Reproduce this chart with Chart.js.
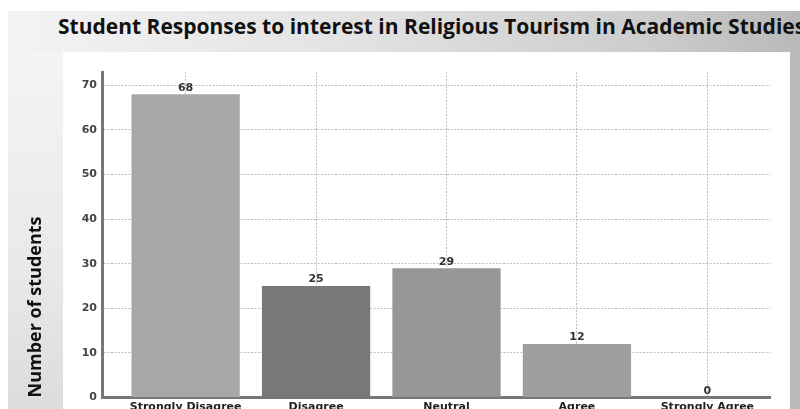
<!DOCTYPE html>
<html>
<head>
<meta charset="utf-8">
<title>Student Responses</title>
<script src="https://cdn.jsdelivr.net/npm/chart.js@4.4.1/dist/chart.umd.min.js"></script>
<style>
  html, body { margin: 0; padding: 0; width: 800px; height: 409px; overflow: hidden; background: #ffffff; }
  .slide { position: absolute; left: 8px; top: 11px; right: 0; bottom: 0;
           background: linear-gradient(to right, #f3f3f3 0%, #e4e4e4 40%, #cdcdcd 80%, #b9b9b9 100%); }
  .slide-left { position: absolute; left: 8px; top: 52px; width: 55px; bottom: 0;
           background: linear-gradient(to bottom, #f4f4f4 0%, #e9e9e9 60%, #dcdcdc 100%); }
  .panel { position: absolute; left: 63px; top: 52px; width: 727px; bottom: 0; background: #ffffff; }
  .heading { position: absolute; left: 58px; top: 12px; white-space: nowrap;
             font-family: "Open Sans", sans-serif; font-weight: 700; font-size: 21px; color: #111; }
  .wrap { position: absolute; left: 0; top: 0; width: 800px; height: 430px; }
</style>
</head>
<body>
<div class="slide"></div>
<div class="slide-left"></div>
<div class="panel"></div>
<div class="heading">Student Responses to interest in Religious Tourism in Academic Studies</div>
<div class="wrap"><canvas id="chart"></canvas></div>
<script>
// Survey categories and how many students chose each one
const responses = ['Strongly Disagree', 'Disagree', 'Neutral', 'Agree', 'Strongly Agree'];
const counts = [68, 25, 29, 12, 0];
const yTicks = [0, 10, 20, 30, 40, 50, 60, 70];
const barColors = ['#a8a8a8', '#787878', '#979797', '#9e9e9e', '#9e9e9e'];

// Writes each count just above its bar
const valueLabels = {
  id: 'valueLabels',
  afterDatasetsDraw(chart) {
    const ctx = chart.ctx;
    const meta = chart.getDatasetMeta(0);
    ctx.save();
    ctx.font = 'bold 11px "DejaVu Sans"';
    ctx.fillStyle = '#333333';
    ctx.textAlign = 'center';
    ctx.textBaseline = 'bottom';
    meta.data.forEach((bar, i) => {
      ctx.fillText(String(counts[i]), bar.x, bar.y - 1);
    });
    ctx.restore();
  }
};

new Chart(document.getElementById('chart'), {
  type: 'bar',
  data: {
    datasets: [{
      data: counts.map((v, i) => ({ x: i, y: v })),
      backgroundColor: barColors,
      borderWidth: 0,
      barPercentage: 0.83,
      categoryPercentage: 1
    }]
  },
  options: {
    responsive: true,
    maintainAspectRatio: false,
    animation: false,
    layout: { padding: { left: 25, top: 72, right: 30, bottom: 12.5 } },
    plugins: { legend: { display: false }, tooltip: { enabled: false } },
    scales: {
      x: {
        type: 'linear',
        offset: false,
        min: -0.641,
        max: 4.48,
        afterBuildTicks(scale) {
          scale.ticks = responses.map((_, i) => ({ value: i }));
        },
        afterFit(scale) { scale.height = 20; },
        ticks: {
          autoSkip: false,
          maxRotation: 0,
          padding: 3,
          color: '#222222',
          font: { family: '"DejaVu Sans"', weight: 'bold', size: 11 },
          callback: (value) => responses[value]
        },
        grid: { offset: false, color: '#bdbdbd', lineWidth: 1, drawTicks: false },
        border: { display: true, color: '#777777', width: 3, dash: [2, 1.5] }
      },
      y: {
        min: 0,
        max: 73,
        afterBuildTicks(scale) {
          scale.ticks = yTicks.map(v => ({ value: v }));
        },
        afterFit(scale) { scale.width = 102 - 25; },
        ticks: {
          padding: 5,
          color: '#444444',
          font: { family: '"DejaVu Sans"', weight: 'bold', size: 11 }
        },
        grid: { color: '#bdbdbd', lineWidth: 1, drawTicks: false },
        border: { display: true, color: '#777777', width: 3, dash: [2, 1.5] },
        title: {
          display: true,
          text: 'Number of students',
          align: 'start',
          color: '#111111',
          padding: { top: 0, bottom: 0 },
          font: { family: '"Open Sans"', weight: 'bold', size: 18 }
        }
      }
    }
  },
  plugins: [valueLabels]
});
</script>
</body>
</html>
